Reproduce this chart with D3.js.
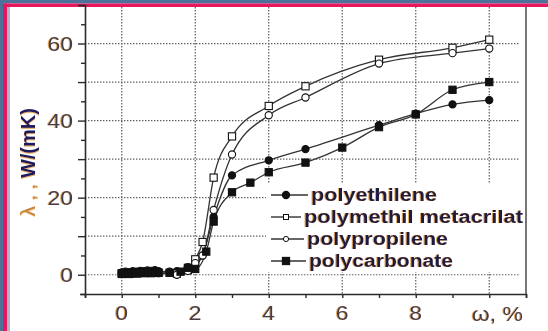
<!DOCTYPE html>
<html>
<head>
<meta charset="utf-8">
<script src="https://cdn.jsdelivr.net/npm/d3@7"></script>
<style>
  html, body { margin: 0; padding: 0; background: #ffffff; overflow: hidden; width: 548px; height: 331px; }
  svg { display: block; }
</style>
</head>
<body>
<svg id="chart" width="548" height="331" viewBox="0 0 548 331"></svg>
<script>
// Thermal conductivity λ, W/(mK) of polymer composites versus filler content ω, %
const xTickValues = [0, 2, 4, 6, 8];
const yTickValues = [0, 20, 40, 60];
const seriesNames = ["polyethilene", "polymethil metacrilat", "polypropilene", "polycarbonate"];

const polyethilene = [
  [0, 0.6], [0.1, 0.8], [0.2, 0.7], [0.3, 0.9], [0.4, 0.8], [0.5, 1.0], [0.6, 0.9],
  [0.7, 1.1], [0.8, 1.0], [0.9, 1.2], [1.0, 0.9], [1.3, 0.8], [1.5, 0.9], [1.8, 2.0],
  [2.0, 2.5], [2.2, 5.0], [2.5, 15.0], [3, 25.8], [4, 29.7], [5, 32.6], [7, 38.8],
  [8, 41.8], [9, 44.2], [10, 45.3]
];
const polymethilMetacrilat = [
  [0, 0.4], [0.5, 0.5], [1.0, 0.5], [1.5, 0.3], [1.8, 1.2], [2.0, 4.0], [2.2, 8.5],
  [2.5, 25.2], [3, 35.9], [4, 43.8], [5, 48.9], [7, 55.8], [9, 58.9], [10, 61.0]
];
const polypropilene = [
  [0, 0.2], [0.5, 0.4], [1.0, 0.4], [1.5, 0.0], [1.8, 1.0], [2.0, 3.0], [2.2, 5.0],
  [2.5, 16.8], [3, 31.2], [4, 41.4], [5, 46.0], [7, 54.8], [9, 57.5], [10, 58.7]
];
const polycarbonate = [
  [0, 0.2], [0.1, 0.3], [0.2, 0.2], [0.3, 0.4], [0.4, 0.3], [0.5, 0.5], [0.6, 0.4],
  [0.7, 0.5], [0.8, 0.4], [0.9, 0.6], [1.0, 0.5], [1.3, 0.5], [1.6, 0.8], [1.8, 1.8],
  [2.0, 1.5], [2.3, 6.0], [2.5, 13.8], [3, 21.4], [3.5, 23.9], [4, 26.6], [5, 29.1],
  [6, 33.0], [7, 38.3], [8, 41.6], [9, 48.0], [10, 50.0]
];

const series = [
  { name: seriesNames[0], data: polyethilene, marker: "circle", filled: true },
  { name: seriesNames[1], data: polymethilMetacrilat, marker: "square", filled: false },
  { name: seriesNames[2], data: polypropilene, marker: "circle", filled: false },
  { name: seriesNames[3], data: polycarbonate, marker: "square", filled: true }
];

const W = 548, H = 331;
const plot = { left: 85, right: 526, top: 5, bottom: 294 };
const ink = "#2a2a2a";
const labelInk = "#3d3d4e";
const legendInk = "#1b1b3f";
const font = "Liberation Sans, Arial, sans-serif";

const svg = d3.select("#chart");

// soft colour fringe on printed text
const defs = svg.append("defs");
const fringe = defs.append("filter").attr("id", "fringe")
  .attr("x", "-10%").attr("y", "-10%").attr("width", "120%").attr("height", "120%");
fringe.append("feDropShadow").attr("dx", -1).attr("dy", 0).attr("stdDeviation", 0.4)
  .attr("flood-color", "#e0902a").attr("flood-opacity", 0.75);

// surround: blue margin along the top and left, pink border line, white page
svg.append("rect").attr("x", 0).attr("y", 0).attr("width", W).attr("height", 3.5)
  .attr("fill", "#4e7199");
svg.append("rect").attr("x", 0).attr("y", 0).attr("width", 3).attr("height", H)
  .attr("fill", "#4e7199");
svg.append("rect").attr("x", 3).attr("y", 3.5).attr("width", W - 3).attr("height", 3.5)
  .attr("fill", "#e8175d");
svg.append("rect").attr("x", 3).attr("y", 3.5).attr("width", 4).attr("height", H - 3.5)
  .attr("fill", "#e8175d");
svg.append("rect").attr("x", 7).attr("y", 7).attr("width", 3).attr("height", H - 7)
  .attr("fill", "#a8bacd");

const x = d3.scaleLinear().domain([-1, 11]).range([plot.left, plot.right]);
const y = d3.scaleLinear().domain([-5, 70]).range([plot.bottom, plot.top]);

// dotted grid
const grid = svg.append("g").attr("stroke", "#5e5e5e").attr("stroke-width", 1.2)
  .attr("stroke-dasharray", "1.4,1.6");
grid.selectAll("line.gx").data(d3.range(0, 11, 2)).join("line")
  .attr("x1", d => x(d)).attr("x2", d => x(d))
  .attr("y1", 7).attr("y2", plot.bottom);
grid.selectAll("line.gy").data(d3.range(0, 61, 10)).join("line")
  .attr("x1", plot.left).attr("x2", plot.right - 6)
  .attr("y1", d => y(d)).attr("y2", d => y(d));

// legend panel sits over the grid
svg.append("rect").attr("x", 266).attr("y", 183).attr("width", 255).attr("height", 89)
  .attr("fill", "#ffffff");

// axes
const xAxis = d3.axisBottom(x).tickValues(d3.range(-1, 12, 1)).tickSize(4).tickFormat("");
const gx = svg.append("g").attr("transform", `translate(0,${plot.bottom})`).call(xAxis);
gx.select(".domain").attr("stroke", ink).attr("stroke-width", 1.6);
gx.selectAll(".tick line").attr("stroke", ink).attr("stroke-width", 1.4);

const yAxis = d3.axisLeft(y).tickValues(d3.range(-5, 71, 5)).tickSize(5).tickFormat("");
const gy = svg.append("g").attr("transform", `translate(${plot.left},0)`).call(yAxis);
gy.select(".domain").attr("stroke", ink).attr("stroke-width", 1.6);
gy.selectAll(".tick line").attr("stroke", ink).attr("stroke-width", 1.4)
  .attr("x2", d => (d % 10 === 0 ? -7 : -4));

// right frame
svg.append("line").attr("x1", plot.right).attr("x2", plot.right)
  .attr("y1", 7).attr("y2", plot.bottom)
  .attr("stroke", "#555").attr("stroke-width", 1.6);

// tick labels (printed slightly wide)
const labels = svg.append("g").attr("font-family", font)
  .attr("font-size", 20).attr("fill", labelInk).attr("filter", "url(#fringe)");
labels.selectAll("text.xl").data(xTickValues).join("text")
  .attr("transform", d => `translate(${x(d)},320) scale(1.15,1)`)
  .attr("text-anchor", "middle").text(d => d);
labels.selectAll("text.yl").data(yTickValues).join("text")
  .attr("transform", d => `translate(73,${y(d)}) scale(1.15,1)`)
  .attr("dy", "0.36em").attr("text-anchor", "end").text(d => d);
labels.append("text")
  .attr("transform", "translate(523,321) scale(1.15,1)")
  .attr("text-anchor", "end").text("ω, %");

// axis title
const yTitle = svg.append("text")
  .attr("transform", "translate(35,162) rotate(-90)")
  .attr("text-anchor", "middle")
  .attr("font-family", font)
  .attr("font-size", 20).attr("filter", "url(#fringe)");
yTitle.append("tspan").attr("fill", "#c7843c").attr("font-weight", "normal").text("λ , ,  ");
yTitle.append("tspan").attr("fill", "#1c1c5e").attr("font-weight", "bold").text("W/(mK)");

// curves
const line = d3.line().x(d => x(d[0])).y(d => y(d[1])).curve(d3.curveMonotoneX);
svg.append("g").selectAll("path").data(series).join("path")
  .attr("d", s => line(s.data)).attr("fill", "none")
  .attr("stroke", "#333").attr("stroke-width", 1.3);

function drawMarker(g, s, cx, cy) {
  const fill = s.filled ? "#111" : "#fff";
  if (s.marker === "circle") {
    g.append("circle").attr("cx", cx).attr("cy", cy).attr("r", 3.6)
      .attr("fill", fill).attr("stroke", "#111").attr("stroke-width", 1.1);
  } else {
    g.append("rect").attr("x", cx - 3.6).attr("y", cy - 3.6)
      .attr("width", 7.2).attr("height", 7.2)
      .attr("fill", fill).attr("stroke", "#111").attr("stroke-width", 1.1);
  }
}

const markers = svg.append("g");
series.forEach(s => s.data.forEach(d => drawMarker(markers, s, x(d[0]), y(d[1]))));

// legend
const legendRows = [195, 217, 239, 261];
const legendTextX = [311, 304, 307, 309];
const legendTextW = [126, 219, 141, 144];
const legend = svg.append("g");
series.forEach((s, i) => {
  const ly = legendRows[i];
  legend.append("line").attr("x1", 271).attr("x2", legendTextX[i] - 3)
    .attr("y1", ly).attr("y2", ly).attr("stroke", "#333").attr("stroke-width", 1.4);
  const mg = legend.append("g");
  if (s.filled) {
    drawMarker(mg, s, 286, ly);
  } else {
    mg.append(s.marker === "circle" ? "circle" : "rect")
      .call(sel => s.marker === "circle"
        ? sel.attr("cx", 286).attr("cy", ly).attr("r", 2.6)
        : sel.attr("x", 283.5).attr("y", ly - 2.5).attr("width", 5).attr("height", 5))
      .attr("fill", "#fff").attr("stroke", "#111").attr("stroke-width", 1);
  }
  legend.append("text").attr("x", legendTextX[i]).attr("y", ly + 6)
    .attr("font-family", font)
    .attr("font-weight", "bold").attr("font-size", 17.5)
    .attr("textLength", legendTextW[i]).attr("lengthAdjust", "spacingAndGlyphs")
    .attr("fill", legendInk).attr("filter", "url(#fringe)")
    .text(s.name);
});
</script>
</body>
</html>
